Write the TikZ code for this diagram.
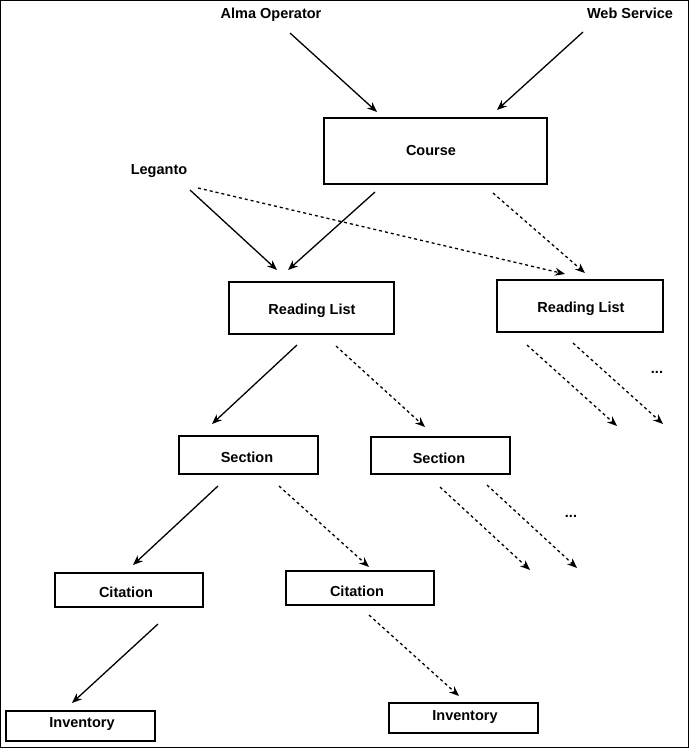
\documentclass[tikz,border=0pt]{standalone}
\usepackage{fontspec}
\setmainfont{Liberation Sans}
\usetikzlibrary{arrows.meta}
\begin{document}
\begin{tikzpicture}[x=1pt,y=-1pt,
  box/.style={draw,line width=2.4pt},
  lbl/.style={font=\fontsize{14.5}{17}\selectfont\bfseries},
  ar/.style={-{Stealth[length=10pt,width=8pt]},line width=1.3pt},
  da/.style={ar,dashed}]
\draw[line width=1pt,fill=white] (0.5,0.5) rectangle (688.5,747.5);
\useasboundingbox (0,0) rectangle (689,748);
\draw[box] (324,118) rectangle (547,184); \node[lbl] (course) at (431,151) {Course};
\draw[box] (229,282) rectangle (394,334); \node[lbl] (rl1) at (312,311) {Reading List};
\draw[box] (497,280) rectangle (663,332); \node[lbl] (rl2) at (581,309) {Reading List};
\draw[box] (179,436) rectangle (318,474); \node[lbl] (s1) at (247,457) {Section};
\draw[box] (371,437) rectangle (510,474); \node[lbl] (s2) at (439,458) {Section};
\draw[box] (55,573) rectangle (203,607); \node[lbl] (c1) at (126,592) {Citation};
\draw[box] (286,571) rectangle (434,605); \node[lbl] (c2) at (357,591) {Citation};
\draw[box] (6,711) rectangle (155,741); \node[lbl] (i1) at (82,724) {Inventory};
\draw[box] (389,703) rectangle (538,733); \node[lbl] (i2) at (465,717) {Inventory};
\node[lbl] (alma) at (271,15) {Alma Operator};
\node[lbl] (web) at (630,13) {Web Service};
\node[lbl] (leg) at (159,171) {Leganto};
\node[lbl] (d1) at (657,372) {...};
\node[lbl] (d2) at (571,516) {...};
\coordinate (a1) at (290,33); \coordinate (a2) at (377,112);
\coordinate (b1) at (583,32); \coordinate (b2) at (497,110);
\coordinate (l1) at (190,190); \coordinate (l2) at (277,270);
\coordinate (cr1) at (375,192); \coordinate (cr2) at (288,270);
\coordinate (r1) at (297,345); \coordinate (r2) at (212,424);
\coordinate (s1a) at (218,486); \coordinate (s1b) at (133,565);
\coordinate (c1a) at (158,624); \coordinate (c1b) at (72,703);
\coordinate (ld1) at (198,188); \coordinate (ld2) at (565,274);
\coordinate (cd1) at (493,193); \coordinate (cd2) at (585,273);
\coordinate (rd1) at (336,346); \coordinate (rd2) at (425,427);
\coordinate (q1) at (527,345); \coordinate (q2) at (617,426);
\coordinate (q3) at (573,343); \coordinate (q4) at (663,424);
\coordinate (sd1) at (279,486); \coordinate (sd2) at (369,567);
\coordinate (t1) at (440,487); \coordinate (t2) at (530,570);
\coordinate (t3) at (487,485); \coordinate (t4) at (577,568);
\coordinate (u1) at (369,615); \coordinate (u2) at (459,696);
\foreach \p/\q in {a1/a2,b1/b2,l1/l2,cr1/cr2,r1/r2,s1a/s1b,c1a/c1b} \draw[ar] (\p) -- (\q);
\foreach \p/\q in {ld1/ld2,cd1/cd2,rd1/rd2,q1/q2,q3/q4,sd1/sd2,t1/t2,t3/t4,u1/u2} \draw[da] (\p) -- (\q);
\end{tikzpicture}
\end{document}
